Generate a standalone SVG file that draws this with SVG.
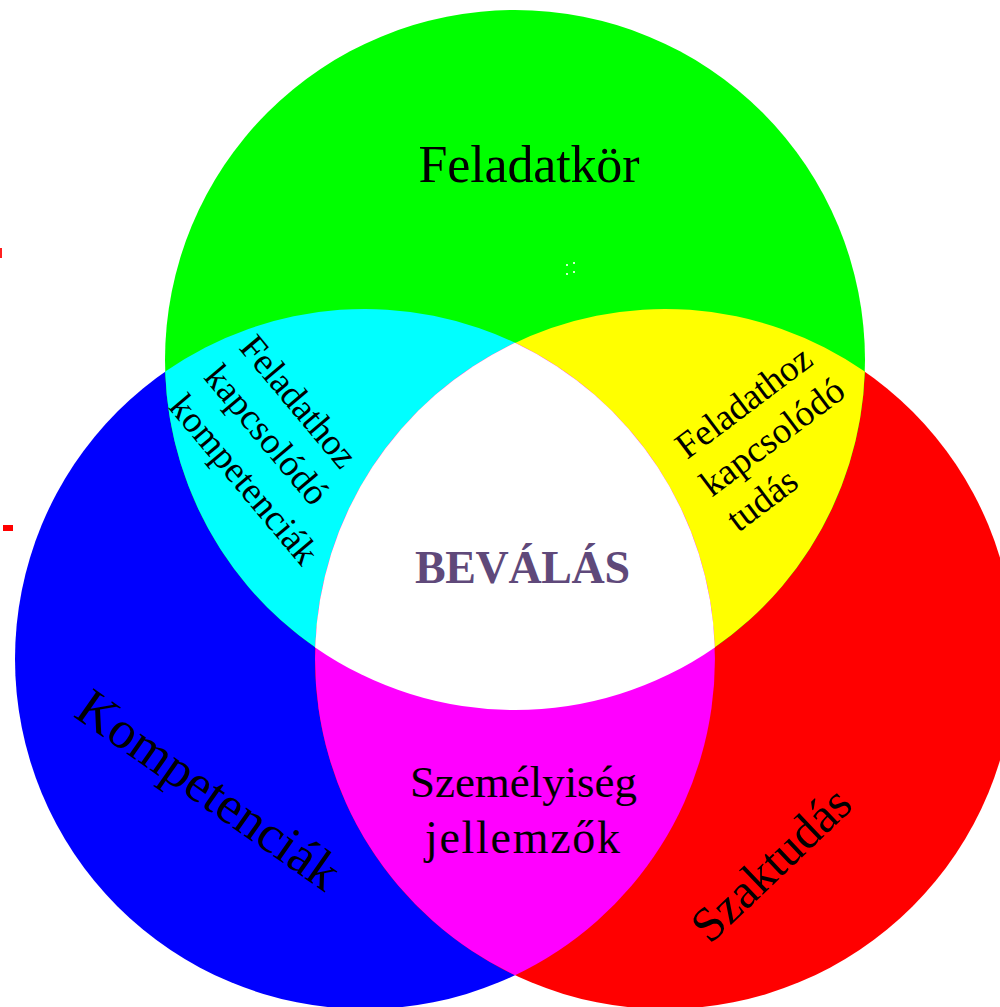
<svg xmlns="http://www.w3.org/2000/svg" width="1000" height="1007" viewBox="0 0 1000 1007">
  <style>
    .lbl { font-family: "Liberation Serif", "Times New Roman", serif; fill: #000000; }
    .mid { text-anchor: middle; }
    .title { font-weight: bold; fill: #5F497A; }
  </style>
  <rect x="0" y="0" width="1000" height="1007" fill="#FFFFFF"/>

  <!-- small red marks at left edge -->
  <g id="marks">
    <rect x="0" y="248" width="2" height="10" fill="#FF2020"/>
    <rect x="3" y="525" width="10" height="6" fill="#FF0000"/>
  </g>

  <!-- base circles -->
  <g id="circle-kompetenciak">
    <circle cx="365" cy="659" r="350" fill="#0000FF"/>
  </g>
  <g id="circle-szaktudas">
    <circle cx="665" cy="659" r="350" fill="#FF0000"/>
  </g>
  <g id="circle-feladatkor">
    <circle cx="515" cy="360" r="350" fill="#00FF00"/>
    <rect x="566" y="264" width="2" height="2" fill="#CCFFCC"/>
    <rect x="566" y="273" width="2" height="2" fill="#CCFFCC"/>
    <rect x="573" y="262" width="2" height="2" fill="#CCFFCC"/>
    <rect x="573" y="271" width="2" height="2" fill="#CCFFCC"/>
  </g>

  <!-- pairwise overlaps -->
  <g id="overlap-cyan">
    <path d="M165.2,371.6 A350,350 0 0 1 714.8,647.4 A350,350 0 0 1 165.2,371.6 Z" fill="#00FFFF"/>
  </g>
  <g id="overlap-yellow">
    <path d="M864.8,371.6 A350,350 0 0 0 315.2,647.4 A350,350 0 0 0 864.8,371.6 Z" fill="#FFFF00"/>
  </g>
  <g id="overlap-magenta">
    <path d="M515,342.8 A350,350 0 0 1 515,975.2 A350,350 0 0 1 515,342.8 Z" fill="#FF00FF"/>
  </g>
  <!-- triple overlap -->
  <g id="overlap-white">
    <path d="M515,342.8 A350,350 0 0 1 714.8,647.4 A350,350 0 0 1 315.2,647.4 A350,350 0 0 1 515,342.8 Z" fill="#FFFFFF"/>
  </g>

  <!-- labels -->
  <g id="label-feladatkor">
    <text class="lbl mid" x="529" y="182" font-size="52" textLength="221">Feladatkör</text>
  </g>
  <g id="label-bevalas">
    <text class="lbl mid title" x="522.5" y="583" font-size="46" textLength="215">BEVÁLÁS</text>
  </g>
  <g id="label-szemelyiseg">
    <text class="lbl mid" x="523.5" y="797" font-size="45" textLength="227">Személyiség</text>
    <text class="lbl mid" x="522.5" y="853" font-size="46" textLength="195">jellemzők</text>
  </g>
  <g id="label-kompetenciak">
    <text class="lbl mid" x="0" y="0" font-size="53" textLength="308" transform="translate(198.5,804) rotate(35)">Kompetenciák</text>
  </g>
  <g id="label-szaktudas">
    <text class="lbl mid" x="0" y="0" font-size="49" textLength="200" transform="translate(782.5,876) rotate(-43.6)">Szaktudás</text>
  </g>
  <g id="label-feladathoz-kompetenciak" transform="translate(238,348) rotate(50)">
    <text class="lbl" x="0" y="0" font-size="37" textLength="160">Feladathoz</text>
    <text class="lbl" x="0" y="46" font-size="37" textLength="170">kapcsolódó</text>
    <text class="lbl" x="0" y="92" font-size="37" textLength="209">kompetenciák</text>
  </g>
  <g id="label-feladathoz-tudas" transform="translate(687,460) rotate(-37)">
    <text class="lbl" x="0" y="0" font-size="37" textLength="160">Feladathoz</text>
    <text class="lbl" x="-3" y="45" font-size="37" textLength="170">kapcsolódó</text>
    <text class="lbl" x="-3" y="89" font-size="37">tudás</text>
  </g>
</svg>
